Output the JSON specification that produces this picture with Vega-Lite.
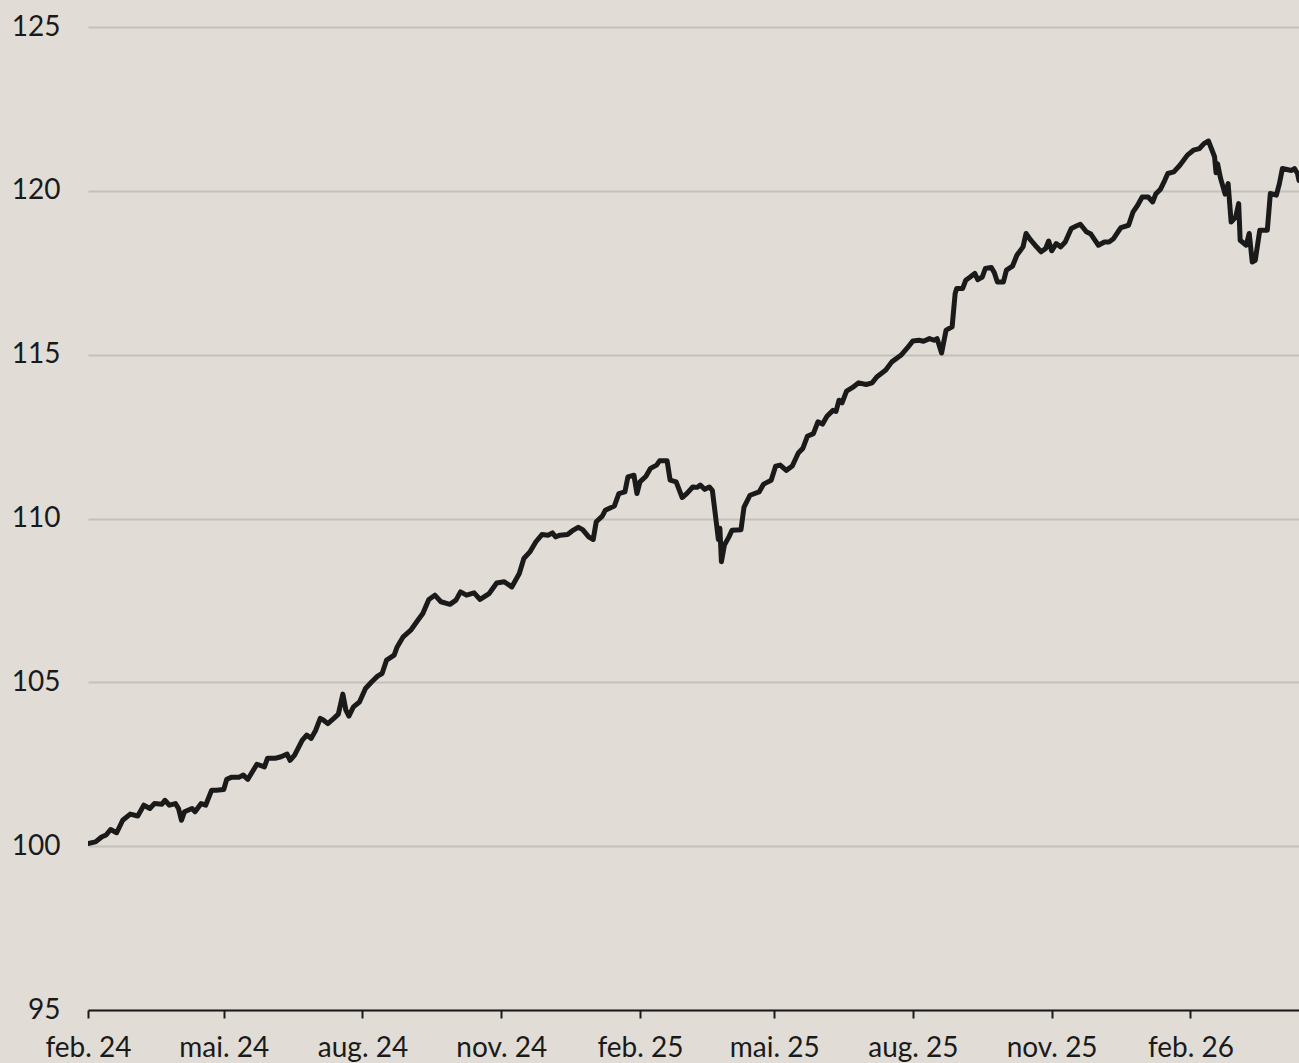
{
  "$schema": "https://vega.github.io/schema/vega-lite/v6.json",
  "width": 1211,
  "height": 983,
  "autosize": {"type": "none"},
  "padding": {"left": 88, "top": 27, "right": 0, "bottom": 53},
  "background": "#e1ddd6",
  "config": {
    "view": {"stroke": null},
    "font": "Lato",
    "axis": {"labelFont": "Lato", "labelFontSize": 28, "labelColor": "#1a1a1a", "title": null}
  },
  "data": {"values": [
    {"date": "2024-02-01", "v": 100.08}, {"date": "2024-02-06", "v": 100.13}, {"date": "2024-02-10", "v": 100.28},
    {"date": "2024-02-13", "v": 100.34}, {"date": "2024-02-16", "v": 100.51}, {"date": "2024-02-20", "v": 100.41},
    {"date": "2024-02-24", "v": 100.79}, {"date": "2024-02-29", "v": 100.98}, {"date": "2024-03-05", "v": 100.92},
    {"date": "2024-03-09", "v": 101.25}, {"date": "2024-03-13", "v": 101.15}, {"date": "2024-03-16", "v": 101.30},
    {"date": "2024-03-21", "v": 101.28}, {"date": "2024-03-23", "v": 101.40}, {"date": "2024-03-26", "v": 101.25},
    {"date": "2024-03-30", "v": 101.30}, {"date": "2024-04-01", "v": 101.15}, {"date": "2024-04-03", "v": 100.79},
    {"date": "2024-04-05", "v": 101.05}, {"date": "2024-04-10", "v": 101.15}, {"date": "2024-04-12", "v": 101.05},
    {"date": "2024-04-16", "v": 101.30}, {"date": "2024-04-19", "v": 101.25}, {"date": "2024-04-23", "v": 101.71},
    {"date": "2024-04-26", "v": 101.71}, {"date": "2024-05-01", "v": 101.73}, {"date": "2024-05-03", "v": 102.04},
    {"date": "2024-05-06", "v": 102.10}, {"date": "2024-05-11", "v": 102.10}, {"date": "2024-05-14", "v": 102.17},
    {"date": "2024-05-17", "v": 102.04}, {"date": "2024-05-20", "v": 102.27}, {"date": "2024-05-23", "v": 102.50},
    {"date": "2024-05-28", "v": 102.42}, {"date": "2024-05-30", "v": 102.68}, {"date": "2024-06-04", "v": 102.68},
    {"date": "2024-06-08", "v": 102.73}, {"date": "2024-06-12", "v": 102.81}, {"date": "2024-06-14", "v": 102.62},
    {"date": "2024-06-17", "v": 102.78}, {"date": "2024-06-22", "v": 103.23}, {"date": "2024-06-25", "v": 103.39},
    {"date": "2024-06-28", "v": 103.29}, {"date": "2024-07-01", "v": 103.54}, {"date": "2024-07-04", "v": 103.90},
    {"date": "2024-07-06", "v": 103.85}, {"date": "2024-07-09", "v": 103.74}, {"date": "2024-07-13", "v": 103.90},
    {"date": "2024-07-16", "v": 104.03}, {"date": "2024-07-19", "v": 104.64}, {"date": "2024-07-21", "v": 104.15},
    {"date": "2024-07-23", "v": 103.97}, {"date": "2024-07-26", "v": 104.25}, {"date": "2024-07-30", "v": 104.40},
    {"date": "2024-08-03", "v": 104.81}, {"date": "2024-08-07", "v": 105.01}, {"date": "2024-08-11", "v": 105.19},
    {"date": "2024-08-14", "v": 105.27}, {"date": "2024-08-17", "v": 105.68}, {"date": "2024-08-22", "v": 105.83},
    {"date": "2024-08-24", "v": 106.08}, {"date": "2024-08-28", "v": 106.39}, {"date": "2024-09-02", "v": 106.59},
    {"date": "2024-09-06", "v": 106.85}, {"date": "2024-09-10", "v": 107.10}, {"date": "2024-09-14", "v": 107.53},
    {"date": "2024-09-18", "v": 107.66}, {"date": "2024-09-22", "v": 107.46}, {"date": "2024-09-28", "v": 107.38},
    {"date": "2024-10-02", "v": 107.51}, {"date": "2024-10-05", "v": 107.76}, {"date": "2024-10-09", "v": 107.66},
    {"date": "2024-10-14", "v": 107.73}, {"date": "2024-10-18", "v": 107.53}, {"date": "2024-10-24", "v": 107.71},
    {"date": "2024-10-29", "v": 108.03}, {"date": "2024-11-03", "v": 108.07}, {"date": "2024-11-08", "v": 107.91},
    {"date": "2024-11-13", "v": 108.32}, {"date": "2024-11-16", "v": 108.78}, {"date": "2024-11-20", "v": 108.98},
    {"date": "2024-11-24", "v": 109.29}, {"date": "2024-11-28", "v": 109.51}, {"date": "2024-12-02", "v": 109.49},
    {"date": "2024-12-05", "v": 109.56}, {"date": "2024-12-07", "v": 109.44}, {"date": "2024-12-10", "v": 109.49},
    {"date": "2024-12-15", "v": 109.51}, {"date": "2024-12-18", "v": 109.62}, {"date": "2024-12-22", "v": 109.73},
    {"date": "2024-12-25", "v": 109.66}, {"date": "2024-12-29", "v": 109.44}, {"date": "2025-01-01", "v": 109.36},
    {"date": "2025-01-03", "v": 109.90}, {"date": "2025-01-07", "v": 110.07}, {"date": "2025-01-09", "v": 110.25},
    {"date": "2025-01-15", "v": 110.38}, {"date": "2025-01-18", "v": 110.76}, {"date": "2025-01-22", "v": 110.81},
    {"date": "2025-01-24", "v": 111.27}, {"date": "2025-01-28", "v": 111.32}, {"date": "2025-01-30", "v": 110.76},
    {"date": "2025-02-01", "v": 111.12}, {"date": "2025-02-05", "v": 111.29}, {"date": "2025-02-08", "v": 111.53},
    {"date": "2025-02-12", "v": 111.63}, {"date": "2025-02-14", "v": 111.76}, {"date": "2025-02-19", "v": 111.76},
    {"date": "2025-02-21", "v": 111.17}, {"date": "2025-02-25", "v": 111.12}, {"date": "2025-03-01", "v": 110.64},
    {"date": "2025-03-04", "v": 110.76}, {"date": "2025-03-08", "v": 110.96}, {"date": "2025-03-11", "v": 110.95},
    {"date": "2025-03-13", "v": 111.02}, {"date": "2025-03-16", "v": 110.89}, {"date": "2025-03-19", "v": 110.96},
    {"date": "2025-03-21", "v": 110.86}, {"date": "2025-03-24", "v": 109.74}, {"date": "2025-03-25", "v": 109.36},
    {"date": "2025-03-26", "v": 109.70}, {"date": "2025-03-27", "v": 108.68}, {"date": "2025-03-29", "v": 109.19},
    {"date": "2025-04-01", "v": 109.44}, {"date": "2025-04-03", "v": 109.64}, {"date": "2025-04-09", "v": 109.66},
    {"date": "2025-04-11", "v": 110.35}, {"date": "2025-04-15", "v": 110.71}, {"date": "2025-04-21", "v": 110.81},
    {"date": "2025-04-24", "v": 111.05}, {"date": "2025-04-29", "v": 111.17}, {"date": "2025-05-02", "v": 111.60},
    {"date": "2025-05-05", "v": 111.63}, {"date": "2025-05-09", "v": 111.47}, {"date": "2025-05-13", "v": 111.60},
    {"date": "2025-05-17", "v": 112.00}, {"date": "2025-05-20", "v": 112.14}, {"date": "2025-05-23", "v": 112.51},
    {"date": "2025-05-27", "v": 112.59}, {"date": "2025-05-30", "v": 112.95}, {"date": "2025-06-02", "v": 112.88},
    {"date": "2025-06-05", "v": 113.12}, {"date": "2025-06-09", "v": 113.30}, {"date": "2025-06-11", "v": 113.27},
    {"date": "2025-06-13", "v": 113.61}, {"date": "2025-06-15", "v": 113.53}, {"date": "2025-06-18", "v": 113.89},
    {"date": "2025-06-22", "v": 114.00}, {"date": "2025-06-26", "v": 114.14}, {"date": "2025-07-01", "v": 114.09},
    {"date": "2025-07-05", "v": 114.14}, {"date": "2025-07-08", "v": 114.32}, {"date": "2025-07-14", "v": 114.53},
    {"date": "2025-07-18", "v": 114.78}, {"date": "2025-07-24", "v": 114.98}, {"date": "2025-07-28", "v": 115.19},
    {"date": "2025-08-01", "v": 115.42}, {"date": "2025-08-05", "v": 115.44}, {"date": "2025-08-08", "v": 115.41},
    {"date": "2025-08-12", "v": 115.49}, {"date": "2025-08-15", "v": 115.44}, {"date": "2025-08-17", "v": 115.49},
    {"date": "2025-08-20", "v": 115.05}, {"date": "2025-08-23", "v": 115.75}, {"date": "2025-08-27", "v": 115.85},
    {"date": "2025-08-29", "v": 116.87}, {"date": "2025-08-30", "v": 117.02}, {"date": "2025-09-03", "v": 117.02},
    {"date": "2025-09-05", "v": 117.27}, {"date": "2025-09-08", "v": 117.37}, {"date": "2025-09-11", "v": 117.48},
    {"date": "2025-09-13", "v": 117.29}, {"date": "2025-09-16", "v": 117.37}, {"date": "2025-09-18", "v": 117.63},
    {"date": "2025-09-22", "v": 117.66}, {"date": "2025-09-24", "v": 117.50}, {"date": "2025-09-26", "v": 117.22},
    {"date": "2025-09-30", "v": 117.22}, {"date": "2025-10-02", "v": 117.58}, {"date": "2025-10-06", "v": 117.70},
    {"date": "2025-10-09", "v": 118.04}, {"date": "2025-10-13", "v": 118.29}, {"date": "2025-10-15", "v": 118.70},
    {"date": "2025-10-18", "v": 118.50}, {"date": "2025-10-21", "v": 118.34}, {"date": "2025-10-25", "v": 118.14},
    {"date": "2025-10-28", "v": 118.24}, {"date": "2025-10-30", "v": 118.47}, {"date": "2025-11-01", "v": 118.17},
    {"date": "2025-11-04", "v": 118.39}, {"date": "2025-11-07", "v": 118.29}, {"date": "2025-11-10", "v": 118.44},
    {"date": "2025-11-14", "v": 118.85}, {"date": "2025-11-17", "v": 118.92}, {"date": "2025-11-20", "v": 118.98},
    {"date": "2025-11-24", "v": 118.75}, {"date": "2025-11-27", "v": 118.68}, {"date": "2025-11-29", "v": 118.54},
    {"date": "2025-12-02", "v": 118.34}, {"date": "2025-12-06", "v": 118.44}, {"date": "2025-12-09", "v": 118.44},
    {"date": "2025-12-12", "v": 118.54}, {"date": "2025-12-15", "v": 118.75}, {"date": "2025-12-17", "v": 118.88},
    {"date": "2025-12-22", "v": 118.95}, {"date": "2025-12-25", "v": 119.36}, {"date": "2025-12-28", "v": 119.56},
    {"date": "2025-12-31", "v": 119.81}, {"date": "2026-01-04", "v": 119.81}, {"date": "2026-01-07", "v": 119.66},
    {"date": "2026-01-09", "v": 119.90}, {"date": "2026-01-12", "v": 120.04}, {"date": "2026-01-15", "v": 120.32},
    {"date": "2026-01-17", "v": 120.53}, {"date": "2026-01-21", "v": 120.58}, {"date": "2026-01-25", "v": 120.78},
    {"date": "2026-01-30", "v": 121.09}, {"date": "2026-02-03", "v": 121.24}, {"date": "2026-02-07", "v": 121.29},
    {"date": "2026-02-10", "v": 121.44}, {"date": "2026-02-13", "v": 121.52}, {"date": "2026-02-17", "v": 121.04},
    {"date": "2026-02-18", "v": 120.55}, {"date": "2026-02-19", "v": 120.83}, {"date": "2026-02-21", "v": 120.38},
    {"date": "2026-02-24", "v": 119.90}, {"date": "2026-02-26", "v": 120.22}, {"date": "2026-02-28", "v": 119.05},
    {"date": "2026-03-03", "v": 119.20}, {"date": "2026-03-05", "v": 119.61}, {"date": "2026-03-06", "v": 118.49},
    {"date": "2026-03-10", "v": 118.34}, {"date": "2026-03-12", "v": 118.70}, {"date": "2026-03-14", "v": 117.83},
    {"date": "2026-03-16", "v": 117.88}, {"date": "2026-03-19", "v": 118.80}, {"date": "2026-03-24", "v": 118.80},
    {"date": "2026-03-26", "v": 119.92}, {"date": "2026-03-30", "v": 119.87}, {"date": "2026-04-01", "v": 120.22},
    {"date": "2026-04-03", "v": 120.68}, {"date": "2026-04-06", "v": 120.65}, {"date": "2026-04-09", "v": 120.62},
    {"date": "2026-04-11", "v": 120.68}, {"date": "2026-04-13", "v": 120.53}, {"date": "2026-04-14", "v": 120.32}
  ]},
  "mark": {"type": "line", "color": "#1a1a1a", "strokeWidth": 5, "strokeJoin": "round", "strokeCap": "round", "clip": true},
  "encoding": {
    "x": {
      "field": "date",
      "type": "temporal",
      "scale": {
        "type": "utc",
        "domain": [
          {"year": 2024, "month": 2, "date": 1, "utc": true},
          {"year": 2026, "month": 4, "date": 14, "utc": true}
        ]
      },
      "axis": {
        "values": [
          {"year": 2024, "month": 2, "date": 1, "utc": true},
          {"year": 2024, "month": 5, "date": 1, "utc": true},
          {"year": 2024, "month": 8, "date": 1, "utc": true},
          {"year": 2024, "month": 11, "date": 1, "utc": true},
          {"year": 2025, "month": 2, "date": 1, "utc": true},
          {"year": 2025, "month": 5, "date": 1, "utc": true},
          {"year": 2025, "month": 8, "date": 1, "utc": true},
          {"year": 2025, "month": 11, "date": 1, "utc": true},
          {"year": 2026, "month": 2, "date": 1, "utc": true}
        ],
        "labelExpr": "['jan.','feb.','mar.','apr.','mai.','jun.','jul.','aug.','sep.','okt.','nov.','des.'][utcmonth(datum.value)] + ' ' + utcFormat(datum.value, '%y')",
        "grid": false,
        "domain": true,
        "domainColor": "#1a1a1a",
        "domainWidth": 2,
        "ticks": true,
        "tickColor": "#1a1a1a",
        "tickWidth": 2,
        "tickSize": 8,
        "labelPadding": 16,
        "labelOverlap": false,
        "labelFlush": false,
        "labelBound": false
      }
    },
    "y": {
      "field": "v",
      "type": "quantitative",
      "scale": {"domain": [95, 125], "zero": false, "nice": false},
      "axis": {
        "values": [95, 100, 105, 110, 115, 120, 125],
        "grid": true,
        "gridColor": "#c4c1bb",
        "gridWidth": 2,
        "domain": false,
        "ticks": false,
        "labelPadding": 28,
        "labelBound": false
      }
    }
  }
}
